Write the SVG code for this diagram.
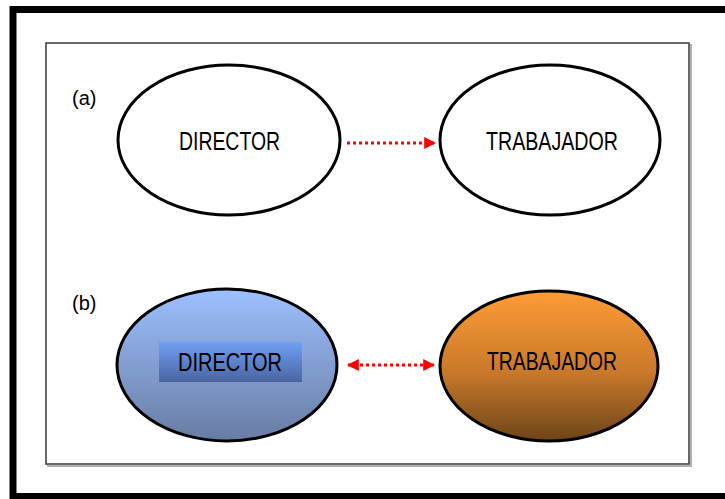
<svg xmlns="http://www.w3.org/2000/svg" width="725" height="499" viewBox="0 0 725 499">
  <defs>
    <style>
      .lbl { font-family: "Liberation Sans", Arial, sans-serif; fill: #000; }
      .node-text { font-size: 25px; }
      .tag { font-size: 20px; }
      .ell { stroke: #000; stroke-width: 3; }
      .link { stroke: #ff0000; stroke-width: 3; stroke-dasharray: 3 3; fill: none; }
    </style>
    <linearGradient id="blueFill" x1="0" y1="0" x2="0" y2="1">
      <stop offset="0" stop-color="#9dc0ff"/>
      <stop offset="1" stop-color="#687ca3"/>
    </linearGradient>
    <linearGradient id="blueBar" x1="0" y1="0" x2="0" y2="1">
      <stop offset="0" stop-color="#70a0f6"/>
      <stop offset="1" stop-color="#4b64a0"/>
    </linearGradient>
    <linearGradient id="orangeFill" x1="0" y1="0" x2="0" y2="1">
      <stop offset="0" stop-color="#ff9c35"/>
      <stop offset="0.55" stop-color="#c8782a"/>
      <stop offset="1" stop-color="#6c4419"/>
    </linearGradient>
    <marker id="headEnd" viewBox="0 0 10 10" refX="9" refY="5" markerWidth="12" markerHeight="12" markerUnits="userSpaceOnUse" orient="auto">
      <path d="M0,0 L10,5 L0,10 Z" fill="#ff0000"/>
    </marker>
    <marker id="headStart" viewBox="0 0 10 10" refX="1" refY="5" markerWidth="12" markerHeight="12" markerUnits="userSpaceOnUse" orient="auto">
      <path d="M10,0 L0,5 L10,10 Z" fill="#ff0000"/>
    </marker>
  </defs>

  <rect width="725" height="499" fill="#fff"/>

  <!-- outer frame -->
  <rect x="13" y="9.5" width="724" height="487" fill="none" stroke="#000" stroke-width="7"/>
  <!-- inner panel with soft shadow -->
  <rect x="48" y="45" width="643" height="421" fill="none" stroke="#b0b0b0" stroke-width="2"/>
  <rect x="46" y="43" width="643" height="421" fill="#fff" stroke="#444" stroke-width="1.6"/>

  <!-- panel tags -->
  <text class="lbl tag" x="72" y="105">(a)</text>
  <text class="lbl tag" x="72" y="310">(b)</text>

  <!-- connectors -->
  <g id="connectors">
    <line class="link" x1="347" y1="143" x2="435" y2="143" marker-end="url(#headEnd)"/>
    <line class="link" x1="348" y1="365" x2="434" y2="365" marker-start="url(#headStart)" marker-end="url(#headEnd)"/>
  </g>

  <!-- (a) nodes -->
  <g id="director-a">
    <ellipse class="ell" cx="229" cy="140" rx="111" ry="75" fill="#fff"/>
    <text class="lbl node-text" x="179" y="150" textLength="101" lengthAdjust="spacingAndGlyphs">DIRECTOR</text>
  </g>
  <g id="trabajador-a">
    <ellipse class="ell" cx="550" cy="140" rx="110" ry="75" fill="#fff"/>
    <text class="lbl node-text" x="486" y="150" textLength="132" lengthAdjust="spacingAndGlyphs">TRABAJADOR</text>
  </g>

  <!-- (b) nodes -->
  <g id="director-b">
    <ellipse class="ell" cx="227" cy="365" rx="110" ry="76" fill="url(#blueFill)"/>
    <rect x="159" y="342" width="143" height="40" fill="url(#blueBar)"/>
    <text class="lbl node-text" x="178" y="371" textLength="104" lengthAdjust="spacingAndGlyphs">DIRECTOR</text>
  </g>
  <g id="trabajador-b">
    <ellipse class="ell" cx="549" cy="366" rx="109" ry="75" fill="url(#orangeFill)"/>
    <text class="lbl node-text" x="487" y="370" textLength="130" lengthAdjust="spacingAndGlyphs">TRABAJADOR</text>
  </g>
</svg>
